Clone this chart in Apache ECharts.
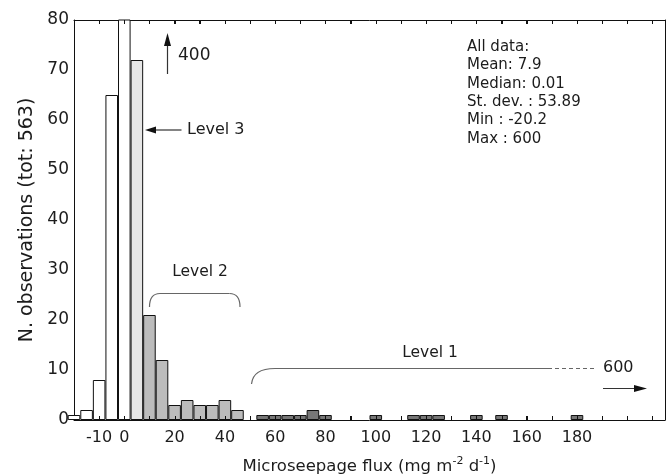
<!DOCTYPE html>
<html>
<head>
<meta charset="utf-8">
<script src="https://cdn.jsdelivr.net/npm/echarts@6/dist/echarts.min.js"></script>
<style>
html,body{margin:0;padding:0;background:#fff;}
#chart{width:666px;height:476px;}
</style>
</head>
<body>
<div id="chart"></div>
<script>
// ---- data (bin centres, mg m-2 d-1, bin width 5) ----
const whiteBins   = [-20, -15, -10, -5, 0];
const whiteCounts = [1, 2, 8, 65, 400];
const level3Bins   = [5];
const level3Counts = [72];
const level2Bins   = [10, 15, 20, 25, 30, 35, 40, 45];
const level2Counts = [21, 12, 3, 4, 3, 3, 4, 2];
const level1Bins   = [55, 60, 65, 70, 75, 80, 100, 115, 120, 125, 140, 150, 180];
const level1Counts = [1, 1, 1, 1, 2, 1, 1, 1, 1, 1, 1, 1, 1];
const xTickLabels = [-10, 0, 20, 40, 60, 80, 100, 120, 140, 160, 180];
const yTickLabels = [0, 10, 20, 30, 40, 50, 60, 70, 80];
const statsLines = ['All data:', 'Mean: 7.9', 'Median: 0.01', 'St. dev. : 53.89', 'Min : -20.2', 'Max : 600'];

const FONT = '"DejaVu Sans", "Liberation Sans", Arial, sans-serif';
const TXT = '#1c1c1c';
const X_MIN = -20, X_MAX = 215, X_STEP = 10;
const pairs = (xs, ys) => xs.map((x, i) => [x, ys[i]]);

function barSeries(name, xs, ys, color, xAxisIndex) {
  return {
    name: name, type: 'bar', xAxisIndex: xAxisIndex, yAxisIndex: 0,
    data: pairs(xs, ys),
    barWidth: '100%', barGap: '-100%', clip: true,
    itemStyle: { color: color, borderColor: '#111', borderWidth: 1 },
    emphasis: { disabled: true }, silent: true
  };
}

const chart = echarts.init(document.getElementById('chart'), null, { renderer: 'canvas' });

const option = {
  animation: false,
  backgroundColor: '#fff',
  textStyle: { fontFamily: FONT },
  grid: { left: 74, right: 1, top: 20, bottom: 56, containLabel: false, outerBoundsMode: 'none' },
  xAxis: [
    {
      type: 'value', position: 'bottom', min: X_MIN, max: X_MAX, interval: X_STEP,
      axisLine: { show: true, onZero: false, lineStyle: { color: '#111', width: 1 } },
      axisTick: { show: true, inside: true, length: 4, lineStyle: { color: '#111' } },
      splitLine: { show: false },
      axisLabel: {
        color: TXT, fontSize: 16, fontFamily: FONT, margin: 10,
        showMinLabel: true, showMaxLabel: true,
        formatter: v => (xTickLabels.indexOf(v) >= 0 ? String(v) : '')
      },
      name: '{a|Microseepage flux (mg m}{s|-2}{a| d}{s|-1}{a|)}',
      nameLocation: 'middle', nameGap: 33,
      nameTextStyle: {
        rich: {
          a: { fontSize: 16.5, fontFamily: FONT, color: TXT, lineHeight: 22, verticalAlign: 'bottom' },
          s: { fontSize: 11, fontFamily: FONT, color: TXT, lineHeight: 22, verticalAlign: 'bottom', padding: [0, 0, 8, 0] }
        }
      }
    },
    {
      type: 'value', position: 'top', min: X_MIN, max: X_MAX, interval: X_STEP,
      axisLine: { show: true, onZero: false, lineStyle: { color: '#111', width: 1 } },
      axisTick: { show: true, inside: true, length: 4, lineStyle: { color: '#111' } },
      axisLabel: { show: false }, splitLine: { show: false }
    }
  ],
  yAxis: [
    {
      type: 'value', position: 'left', min: yTickLabels[0], max: yTickLabels[yTickLabels.length - 1], interval: 10,
      axisLine: { show: true, onZero: false, lineStyle: { color: '#111', width: 1 } },
      axisTick: { show: false },
      splitLine: { show: false },
      axisLabel: { color: TXT, fontSize: 17, fontFamily: FONT, margin: 5 },
      name: 'N. observations (tot: 563)', nameLocation: 'middle', nameGap: 35,
      nameTextStyle: { fontSize: 19, fontFamily: FONT, color: TXT }
    },
    {
      type: 'value', position: 'right', min: 0, max: 80,
      axisLine: { show: true, onZero: false, lineStyle: { color: '#111', width: 1 } },
      axisTick: { show: false }, axisLabel: { show: false }, splitLine: { show: false }
    }
  ],
  series: [
    barSeries('Below level 3', whiteBins, whiteCounts, '#ffffff', 0),
    barSeries('Level 3', level3Bins, level3Counts, '#e6e6e6', 0),
    barSeries('Level 2', level2Bins, level2Counts, '#bcbcbc', 0),
    barSeries('Level 1', level1Bins, level1Counts, '#777777', 1)
  ]
};
chart.setOption(option);

// ---- inward frame ticks, placed through the axis scale ----
const yBottom = chart.convertToPixel({ yAxisIndex: 0 }, yTickLabels[0]);
const yTop = chart.convertToPixel({ yAxisIndex: 0 }, yTickLabels[yTickLabels.length - 1]);
const tickGraphics = [];
for (let v = X_MIN + X_STEP; v < X_MAX; v += X_STEP) {
  const px = Math.round(chart.convertToPixel({ xAxisIndex: 0 }, v)) + 0.5;
  tickGraphics.push({ type: 'line', silent: true, z: 50, shape: { x1: px, y1: yBottom, x2: px, y2: yBottom - 4 }, style: { stroke: '#111', lineWidth: 1 } });
  tickGraphics.push({ type: 'line', silent: true, z: 50, shape: { x1: px, y1: yTop, x2: px, y2: yTop + 4 }, style: { stroke: '#111', lineWidth: 1 } });
}

// ---- annotations ----
const LINE = { stroke: '#333', lineWidth: 1.2 };
const BR = { stroke: '#666', lineWidth: 1.2, fill: null };
const graphics = tickGraphics.concat([
  // up arrow "400"
  { type: 'line', shape: { x1: 167.5, y1: 74, x2: 167.5, y2: 44 }, style: LINE, silent: true },
  { type: 'polygon', shape: { points: [[167.5, 33], [164, 46], [171, 46]] }, style: { fill: '#111' }, silent: true },
  { type: 'text', x: 178, y: 56, style: { text: '400', fontSize: 17, fontFamily: FONT, fill: TXT, verticalAlign: 'middle' }, silent: true },
  // Level 3
  { type: 'line', shape: { x1: 181.5, y1: 130, x2: 154, y2: 130 }, style: LINE, silent: true },
  { type: 'polygon', shape: { points: [[145, 130], [156, 126.5], [156, 133.5]] }, style: { fill: '#111' }, silent: true },
  { type: 'text', x: 187, y: 130, style: { text: 'Level 3', fontSize: 16, fontFamily: FONT, fill: TXT, verticalAlign: 'middle' }, silent: true },
  // Level 2
  { type: 'text', x: 200, y: 272, style: { text: 'Level 2', fontSize: 15.5, fontFamily: FONT, fill: TXT, align: 'center', verticalAlign: 'middle' }, silent: true },
  { type: 'bezierCurve', shape: { x1: 149.5, y1: 307, cpx1: 149.5, cpy1: 293.5, x2: 160, y2: 293.5 }, style: BR, silent: true },
  { type: 'line', shape: { x1: 160, y1: 293.5, x2: 229.5, y2: 293.5 }, style: BR, silent: true },
  { type: 'bezierCurve', shape: { x1: 229.5, y1: 293.5, cpx1: 240, cpy1: 293.5, x2: 240, y2: 307 }, style: BR, silent: true },
  // Level 1
  { type: 'text', x: 430, y: 353, style: { text: 'Level 1', fontSize: 15.5, fontFamily: FONT, fill: TXT, align: 'center', verticalAlign: 'middle' }, silent: true },
  { type: 'bezierCurve', shape: { x1: 251.5, y1: 384, cpx1: 253, cpy1: 368.5, x2: 275, y2: 368.5 }, style: BR, silent: true },
  { type: 'line', shape: { x1: 275, y1: 368.5, x2: 548, y2: 368.5 }, style: BR, silent: true },
  { type: 'line', shape: { x1: 548, y1: 368.5, x2: 596, y2: 368.5 }, style: { stroke: '#666', lineWidth: 1.2, lineDash: [4, 3] }, silent: true },
  { type: 'text', x: 603, y: 368, style: { text: '600', fontSize: 16, fontFamily: FONT, fill: TXT, verticalAlign: 'middle' }, silent: true },
  { type: 'line', shape: { x1: 603, y1: 388.5, x2: 636, y2: 388.5 }, style: LINE, silent: true },
  { type: 'polygon', shape: { points: [[647, 388.5], [634, 385], [634, 392]] }, style: { fill: '#111' }, silent: true },
  // stats block
  { type: 'text', x: 467, y: 93, style: { text: statsLines.join('\n'), fontSize: 15, lineHeight: 18.4, fontFamily: FONT, fill: TXT, verticalAlign: 'middle' }, silent: true }
]);
chart.setOption({ graphic: graphics });
</script>
</body>
</html>
